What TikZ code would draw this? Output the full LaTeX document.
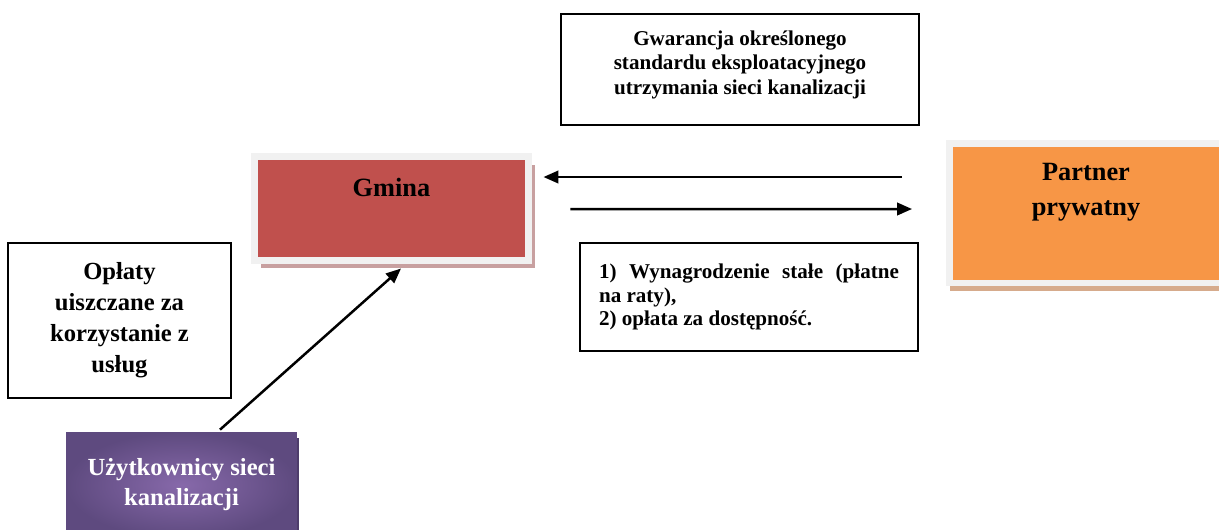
\documentclass[tikz,border=0pt]{standalone}
\usepackage{fontspec}
\setmainfont{Liberation Serif}
\usetikzlibrary{arrows.meta, calc, shadows}
\definecolor{gminaczerw}{HTML}{C0504D}
\definecolor{partnerpom}{HTML}{F79646}
\definecolor{ramkaszara}{HTML}{F1F1F1}
\definecolor{cienczerw}{HTML}{C8A0A0}
\definecolor{cienpom}{HTML}{D6AB8C}
\definecolor{fiolwew}{HTML}{8769AA}
\definecolor{fiolzew}{HTML}{5E4A7F}
\definecolor{cienfiol}{HTML}{4E3D6B}

\begin{document}
\begin{tikzpicture}[x=0.02cm, y=-0.02cm,
    ramka/.style = {draw=ramkaszara, line width=0.14cm, inner sep=0pt, minimum width=5.48cm},
    opis/.style = {draw, line width=0.04cm, inner sep=0pt, align=center},
    strzalka/.style = {line width=0.05cm, -{Triangle[length=0.3cm, width=0.25cm]}},
    tekst/.style = {font=\bfseries, align=center, inner sep=0pt}]
    % Parametri
    \pgfmathsetmacro{\W}{1219}
    \pgfmathsetmacro{\H}{529}
    \path[use as bounding box, clip] (0,0) rectangle (\W,\H);
    % Gmina
    \node[ramka, fill=gminaczerw, minimum height=2.07cm,
        drop shadow={shadow xshift=0.13cm, shadow yshift=-0.16cm, fill=cienczerw, opacity=1}]
        (gmina) at (391.5,208.25) {};
    \node[tekst, font=\bfseries\fontsize{15}{19.8}\selectfont] (gminanapis) at ($(gmina.north)+(0,34.5)$) {Gmina};
    % Partner prywatny
    \node[ramka, fill=partnerpom, minimum height=2.8cm,
        drop shadow={shadow xshift=0.02cm, shadow yshift=-0.16cm, fill=cienpom, opacity=1}]
        (partner) at (1086,213) {};
    \node[tekst, font=\bfseries\fontsize{15}{19.8}\selectfont] (partnernapis) at ($(partner.north)+(0,52.5)$) {Partner\\prywatny};
    % Uzytkownicy
    \node[tekst, text=white, font=\bfseries\fontsize{14}{17}\selectfont,
        minimum width=4.62cm, minimum height=2.12cm, inner color=fiolwew, outer color=fiolzew,
        drop shadow={shadow xshift=0.05cm, shadow yshift=-0.12cm, fill=cienfiol, opacity=1}]
        (uzytkownicy) at (181.5,485) {Użytkownicy sieci\\kanalizacji};
    % Opisy
    \node[opis, minimum width=7.16cm, minimum height=2.22cm, text depth=8pt,
        font=\bfseries\fontsize{12}{13.8}\selectfont]
        (gwarancja) at (740,69.5) {Gwarancja określonego\\standardu eksploatacyjnego\\utrzymania sieci kanalizacji};
    \node[opis, minimum width=6.76cm, minimum height=2.16cm, text width=6cm, align=justify,
        font=\bfseries\fontsize{12}{13.6}\selectfont]
        (wynagrodzenie) at (749,297) {1) Wynagrodzenie stałe (płatne\linebreak na raty),\par 2) opłata za dostępność.};
    \node[opis, minimum width=4.46cm, minimum height=3.1cm, font=\bfseries\fontsize{14}{17.6}\selectfont]
        (oplaty) at (119.5,320.5) {Opłaty\\uiszczane za\\korzystanie z\\usług};
    % Strzalki
    \draw[strzalka] ($(partner.west)+(-43.5,-36)$) -- ($(gmina.east)+(11.5,-31.25)$);
    \draw[strzalka] ($(gmina.east)+(38.5,0.75)$) -- ($(partner.west)+(-33.5,-4)$);
    \draw[strzalka] ($(uzytkownicy.north)+(38.5,-2)$) -- ($(gmina.south)+(9.5,5)$);
\end{tikzpicture}
\end{document}
